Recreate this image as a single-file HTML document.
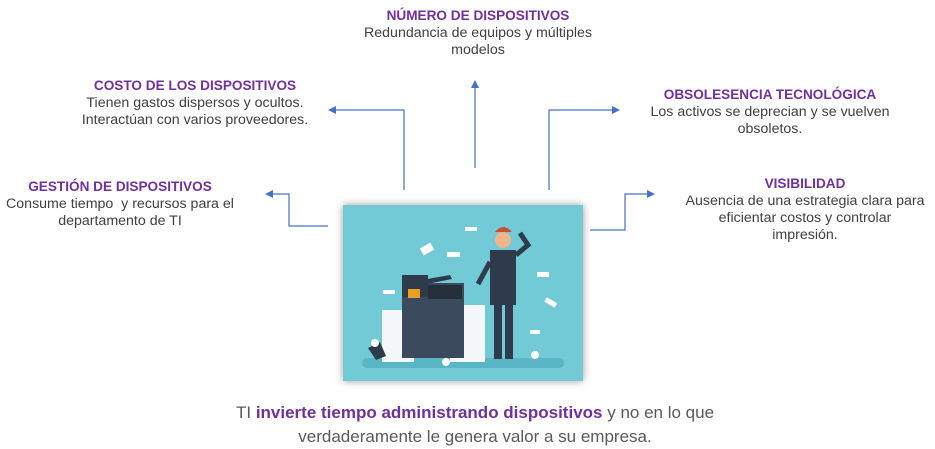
<!DOCTYPE html>
<html><head><meta charset="utf-8"><style>
body{margin:0;width:935px;height:446px;background:#fff;position:relative;font-family:"Liberation Sans",sans-serif;overflow:hidden}
.b{position:absolute;text-align:center;font-size:14.2px;line-height:17px;color:#404040;white-space:nowrap}
.b b{color:#7030a0;font-size:13.6px;display:block;line-height:18px}
.ft{position:absolute;left:150px;width:650px;top:401px;text-align:center;font-size:17px;line-height:24px;color:#595959}
.ft b{color:#7030a0}
</style></head><body>
<div class="b" style="left:328px;width:300px;top:7px"><b>NÚMERO DE DISPOSITIVOS</b>Redundancia de equipos y múltiples<br>modelos</div>
<div class="b" style="left:55px;width:280px;top:77px"><b>COSTO DE LOS DISPOSITIVOS</b>Tienen gastos dispersos y ocultos.<br>Interactúan con varios proveedores.</div>
<div class="b" style="left:-5px;width:250px;top:178px"><b>GESTIÓN DE DISPOSITIVOS</b>Consume tiempo&nbsp; y recursos para el<br>departamento de TI</div>
<div class="b" style="left:630px;width:280px;top:86px"><b>OBSOLESENCIA TECNOLÓGICA</b>Los activos se deprecian y se vuelven<br>obsoletos.</div>
<div class="b" style="left:675px;width:260px;top:175px"><b>VISIBILIDAD</b>Ausencia de una estrategia clara para<br>eficientar costos y controlar<br>impresión.</div>
<svg width="935" height="446" style="position:absolute;left:0;top:0">
<defs><marker id="a" markerWidth="8" markerHeight="8" refX="6" refY="4" orient="auto" markerUnits="userSpaceOnUse"><path d="M0,0L8,4L0,8z" fill="#4472c4"/></marker>
<filter id="s" x="-10%" y="-10%" width="120%" height="120%"><feDropShadow dx="0" dy="0" stdDeviation="4" flood-color="#000" flood-opacity="0.4"/></filter></defs>
<g fill="none" stroke="#4472c4" stroke-width="1.2">
<polyline points="328,226 289,226 289,194 267,194" marker-end="url(#a)"/>
<polyline points="404,190 404,110 330,110" marker-end="url(#a)"/>
<polyline points="475,168 475,82" marker-end="url(#a)"/>
<polyline points="549,190 549,110 618,110" marker-end="url(#a)"/>
<polyline points="590,230 625,230 625,194 653,194" marker-end="url(#a)"/>
</g>
<rect x="343" y="205" width="240" height="176" fill="#72cad6" filter="url(#s)"/>
<rect x="362" y="358" width="202" height="10" rx="5" fill="#5ab6c4"/>
<rect x="382" y="310" width="32" height="52" fill="#f4f8fb"/>
<rect x="450" y="305" width="35" height="57" fill="#f4f8fb"/>
<rect x="402" y="283" width="62" height="75" fill="#3b4a5c"/>
<rect x="402" y="275" width="26" height="22" fill="#2e3b4a"/>
<rect x="408" y="289" width="12" height="9" fill="#e8a020"/>
<rect x="428" y="285" width="34" height="14" fill="#26303c"/>
<polygon points="404,283 450,275 452,279 406,288" fill="#2e3b4a"/>
<path d="M368,348 l12,-6 l6,14 l-10,4z" fill="#2e3b4a"/>
<circle cx="375" cy="343" r="4" fill="#fff"/>
<circle cx="503" cy="240" r="8" fill="#f2b48a"/>
<path d="M495,232 q8,-10 17,0" fill="#c8522a"/>
<path d="M490,250 h26 v55 h-26z" fill="#2f3a4a"/>
<rect x="494" y="303" width="8" height="56" fill="#2f3a4a"/>
<rect x="505" y="303" width="8" height="56" fill="#2f3a4a"/>
<path d="M516,255 l12,-10 l-8,-12" stroke="#2f3a4a" stroke-width="5" fill="none"/>
<path d="M490,262 l-12,22" stroke="#2f3a4a" stroke-width="5" fill="none"/>
<g fill="#fff"><rect x="421" y="245" width="12" height="8" transform="rotate(-30 427 249)"/><rect x="447" y="252" width="13" height="5"/><rect x="537" y="272" width="12" height="5"/><rect x="545" y="300" width="12" height="5" transform="rotate(30 551 302)"/><rect x="530" y="330" width="10" height="4"/><rect x="383" y="290" width="12" height="4"/><rect x="465" y="227" width="12" height="4"/><circle cx="446" cy="362" r="4"/><circle cx="535" cy="355" r="4"/></g>
</svg>
<div class="ft">TI <b>invierte tiempo administrando dispositivos</b> y no en lo que<br>verdaderamente le genera valor a su empresa.</div>
</body></html>
